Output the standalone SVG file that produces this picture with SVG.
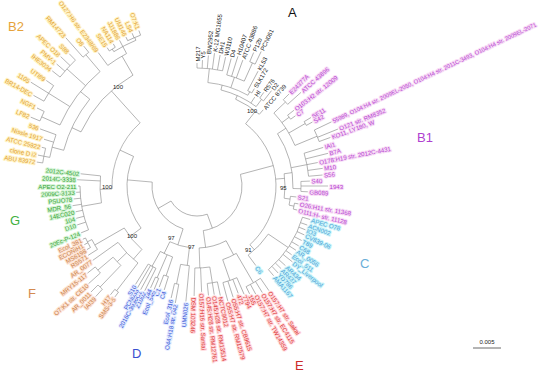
<svg xmlns="http://www.w3.org/2000/svg" width="550" height="378" viewBox="0 0 550 378">
<style>
text{font-family:"Liberation Sans",Arial,sans-serif}
.lf text{font-size:6.1px;dominant-baseline:central;paint-order:stroke;stroke-width:2.2px;stroke-linejoin:round}
.lf text.sm{font-size:5.7px}
.f{text-anchor:end}
.cA text{fill:#1a1a1a;stroke:none}
.cB1 text{fill:#b43fd0;stroke:#f8dcf6}
.cB2 text{fill:#e2a235;stroke:#fff3c6}
.cC text{fill:#4a9fd6;stroke:#c9f3f9}
.cD text{fill:#3553d6;stroke:#e3ebff}
.cE text{fill:#dd3535;stroke:#ffdadd}
.cF text{fill:#c98048;stroke:#fde3d3}
.cG text{fill:#36a336;stroke:#d6f5d6}
.bs{font-size:6px;fill:#222}
.cl{font-size:13px}
#connectors{fill:none;stroke:#8c8c8c;stroke-width:0.6}
</style>
<rect width="550" height="378" fill="#ffffff"/>
<g id="connectors" transform="translate(197,186)">
<circle r="30" pathLength="360" stroke-dasharray="80 400" transform="rotate(70)"/>
<line x1="30" x2="45" transform="rotate(150)"/>
<circle r="45" pathLength="360" stroke-dasharray="77 400" transform="rotate(108)"/>
<line x1="45" x2="62" transform="rotate(108)"/>
<line x1="45" x2="70" transform="rotate(185)"/>
<circle r="70" pathLength="360" stroke-dasharray="62 400" transform="rotate(143)"/>
<line x1="70" x2="84" transform="rotate(143)"/>
<line x1="70" x2="85" transform="rotate(205)"/>
<circle r="85" pathLength="360" stroke-dasharray="50 400" transform="rotate(178)"/>
<line x1="85" x2="97" transform="rotate(178)"/>
<line x1="85" x2="128" transform="rotate(228)"/>
<line x1="30" x2="45" transform="rotate(70)"/>
<circle r="45" pathLength="360" stroke-dasharray="97 400" transform="rotate(-15)"/>
<line x1="45" x2="62" transform="rotate(82)"/>
<line x1="45" x2="79" transform="rotate(-15)"/>
<circle r="79" pathLength="360" stroke-dasharray="100 400" transform="rotate(-52)"/>
<line x1="79" x2="95" transform="rotate(-52)"/>
<line x1="79" x2="88" transform="rotate(-5)"/>
<line x1="79" x2="86" transform="rotate(48)"/>
<!-- G -->
<circle r="97" pathLength="360" stroke-dasharray="16 400" transform="rotate(170)"/>
<line x1="97" x2="117" transform="rotate(186)"/>
<line x1="97" x2="120" transform="rotate(183)"/>
<line x1="97" x2="117" transform="rotate(170)"/>
<circle r="117" pathLength="360" stroke-dasharray="22 400" transform="rotate(158)"/>
<line x1="117" x2="119" transform="rotate(180)"/>
<line x1="117" x2="121" transform="rotate(177)"/>
<line x1="117" x2="124" transform="rotate(174)"/>
<line x1="117" x2="126" transform="rotate(171)"/>
<line x1="117" x2="124" transform="rotate(168)"/>
<line x1="117" x2="125" transform="rotate(165)"/>
<line x1="117" x2="126" transform="rotate(162)"/>
<line x1="117" x2="125" transform="rotate(158)"/>
<!-- F -->
<circle r="84" pathLength="360" stroke-dasharray="19 400" transform="rotate(131)"/>
<line x1="84" x2="118" transform="rotate(150)"/>
<circle r="118" pathLength="360" stroke-dasharray="5.5 400" transform="rotate(147.5)"/>
<line x1="118" x2="129" transform="rotate(147.5)"/>
<line x1="118" x2="123" transform="rotate(153)"/>
<circle r="123" pathLength="360" stroke-dasharray="5 400" transform="rotate(150)"/>
<line x1="123" x2="127" transform="rotate(150)"/>
<line x1="123" x2="127" transform="rotate(152.5)"/>
<line x1="123" x2="126" transform="rotate(155)"/>
<line x1="84" x2="97" transform="rotate(131)"/>
<circle r="97" pathLength="360" stroke-dasharray="17 400" transform="rotate(127.5)"/>
<line x1="97" x2="132" transform="rotate(127.5)"/>
<circle r="132" pathLength="360" stroke-dasharray="2 400" transform="rotate(126.5)"/>
<line x1="132" x2="138" transform="rotate(126.5)"/>
<line x1="132" x2="139" transform="rotate(128.5)"/>
<line x1="97" x2="110" transform="rotate(136.5)"/>
<circle r="110" pathLength="360" stroke-dasharray="5.9 400" transform="rotate(133.8)"/>
<line x1="110" x2="140" transform="rotate(133.8)"/>
<circle r="140" pathLength="360" stroke-dasharray="2.5 400" transform="rotate(132.5)"/>
<line x1="140" x2="150" transform="rotate(132.5)"/>
<line x1="140" x2="150" transform="rotate(135)"/>
<line x1="110" x2="130" transform="rotate(139.7)"/>
<circle r="130" pathLength="360" stroke-dasharray="3.5 400" transform="rotate(138)"/>
<line x1="130" x2="146" transform="rotate(138)"/>
<line x1="130" x2="140" transform="rotate(141.5)"/>
<line x1="97" x2="128" transform="rotate(144.5)"/>
<!-- B2 -->
<circle r="128" pathLength="360" stroke-dasharray="35 400" transform="rotate(205)"/>
<line x1="128" x2="150" transform="rotate(240)"/>
<circle r="150" pathLength="360" stroke-dasharray="8.5 400" transform="rotate(233.5)"/>
<line x1="150" x2="166" transform="rotate(233.5)"/>
<line x1="150" x2="158" transform="rotate(242)"/>
<circle r="158" pathLength="360" stroke-dasharray="9 400" transform="rotate(238.25)"/>
<line x1="158" x2="161" transform="rotate(238.25)"/>
<circle r="161" pathLength="360" stroke-dasharray="2.5 400" transform="rotate(237)"/>
<line x1="161" x2="165" transform="rotate(237)"/>
<line x1="161" x2="165" transform="rotate(239.5)"/>
<line x1="158" x2="165" transform="rotate(242)"/>
<line x1="158" x2="161" transform="rotate(247.25)"/>
<circle r="161" pathLength="360" stroke-dasharray="5 400" transform="rotate(244.5)"/>
<line x1="161" x2="165" transform="rotate(244.5)"/>
<line x1="161" x2="166" transform="rotate(247)"/>
<line x1="161" x2="166" transform="rotate(249.5)"/>
<line x1="128" x2="138" transform="rotate(205)"/>
<circle r="138" pathLength="360" stroke-dasharray="24 400" transform="rotate(195)"/>
<line x1="138" x2="150" transform="rotate(195)"/>
<circle r="150" pathLength="360" stroke-dasharray="9 400" transform="rotate(191)"/>
<line x1="150" x2="156" transform="rotate(191)"/>
<circle r="156" pathLength="360" stroke-dasharray="5.5 400" transform="rotate(188.5)"/>
<line x1="156" x2="162" transform="rotate(188.5)"/>
<line x1="156" x2="162" transform="rotate(191)"/>
<line x1="156" x2="160" transform="rotate(194)"/>
<line x1="150" x2="160" transform="rotate(197)"/>
<line x1="150" x2="167" transform="rotate(200)"/>
<line x1="138" x2="150" transform="rotate(219)"/>
<circle r="150" pathLength="360" stroke-dasharray="25.75 400" transform="rotate(204)"/>
<line x1="150" x2="170" transform="rotate(204)"/>
<circle r="170" pathLength="360" stroke-dasharray="3.5 400" transform="rotate(202.5)"/>
<line x1="170" x2="180" transform="rotate(202.5)"/>
<line x1="170" x2="178" transform="rotate(206)"/>
<line x1="150" x2="175" transform="rotate(212)"/>
<circle r="175" pathLength="360" stroke-dasharray="6 400" transform="rotate(209)"/>
<line x1="175" x2="187" transform="rotate(209)"/>
<line x1="175" x2="196" transform="rotate(212)"/>
<line x1="175" x2="184" transform="rotate(215)"/>
<line x1="150" x2="175" transform="rotate(222)"/>
<circle r="175" pathLength="360" stroke-dasharray="7.5 400" transform="rotate(218.5)"/>
<line x1="175" x2="185" transform="rotate(218.5)"/>
<line x1="175" x2="186" transform="rotate(221)"/>
<line x1="175" x2="188" transform="rotate(223.5)"/>
<line x1="175" x2="184" transform="rotate(226)"/>
<line x1="150" x2="172" transform="rotate(229.75)"/>
<circle r="172" pathLength="360" stroke-dasharray="2.5 400" transform="rotate(228.5)"/>
<line x1="172" x2="198" transform="rotate(228.5)"/>
<line x1="172" x2="180" transform="rotate(231)"/>
<!-- D -->
<circle r="62" pathLength="360" stroke-dasharray="19 400" transform="rotate(97)"/>
<line x1="62" x2="80" transform="rotate(97)"/>
<circle r="80" pathLength="360" stroke-dasharray="6.3 400" transform="rotate(95.5)"/>
<line x1="80" x2="116" transform="rotate(95.5)"/>
<line x1="80" x2="100" transform="rotate(101.8)"/>
<circle r="100" pathLength="360" stroke-dasharray="2.5 400" transform="rotate(100.5)"/>
<line x1="100" x2="119" transform="rotate(100.5)"/>
<line x1="100" x2="115" transform="rotate(103)"/>
<line x1="62" x2="75" transform="rotate(116)"/>
<circle r="75" pathLength="360" stroke-dasharray="10.25 400" transform="rotate(109)"/>
<line x1="75" x2="95" transform="rotate(109)"/>
<circle r="95" pathLength="360" stroke-dasharray="3 400" transform="rotate(107.5)"/>
<line x1="95" x2="109" transform="rotate(107.5)"/>
<line x1="95" x2="108" transform="rotate(110.5)"/>
<line x1="75" x2="100" transform="rotate(113.5)"/>
<circle r="100" pathLength="360" stroke-dasharray="2 400" transform="rotate(112.5)"/>
<line x1="100" x2="112" transform="rotate(112.5)"/>
<line x1="100" x2="112" transform="rotate(114.5)"/>
<line x1="75" x2="92" transform="rotate(119.25)"/>
<circle r="92" pathLength="360" stroke-dasharray="5.5 400" transform="rotate(116.5)"/>
<line x1="92" x2="117" transform="rotate(116.5)"/>
<line x1="92" x2="118" transform="rotate(118.5)"/>
<line x1="92" x2="118" transform="rotate(120.3)"/>
<line x1="92" x2="116" transform="rotate(122)"/>
<!-- E -->
<circle r="62" pathLength="360" stroke-dasharray="26 400" transform="rotate(62)"/>
<line x1="62" x2="82" transform="rotate(88)"/>
<circle r="82" pathLength="360" stroke-dasharray="10.5 400" transform="rotate(81)"/>
<line x1="82" x2="110" transform="rotate(91.5)"/>
<line x1="82" x2="106" transform="rotate(87.5)"/>
<line x1="82" x2="98" transform="rotate(81)"/>
<circle r="98" pathLength="360" stroke-dasharray="6 400" transform="rotate(78)"/>
<line x1="98" x2="112" transform="rotate(78)"/>
<line x1="98" x2="110" transform="rotate(81)"/>
<line x1="98" x2="110" transform="rotate(84)"/>
<line x1="62" x2="78" transform="rotate(62)"/>
<circle r="78" pathLength="360" stroke-dasharray="11 400" transform="rotate(59.75)"/>
<line x1="78" x2="112" transform="rotate(59.75)"/>
<circle r="112" pathLength="360" stroke-dasharray="8.5 400" transform="rotate(55.5)"/>
<line x1="112" x2="127" transform="rotate(55.5)"/>
<line x1="112" x2="125" transform="rotate(58.5)"/>
<line x1="112" x2="123" transform="rotate(61.5)"/>
<line x1="112" x2="120" transform="rotate(64)"/>
<line x1="78" x2="100" transform="rotate(70.75)"/>
<circle r="100" pathLength="360" stroke-dasharray="8.5 400" transform="rotate(66.5)"/>
<line x1="100" x2="118" transform="rotate(66.5)"/>
<line x1="100" x2="115" transform="rotate(69)"/>
<line x1="100" x2="117" transform="rotate(72)"/>
<line x1="100" x2="119" transform="rotate(75)"/>
<!-- C -->
<circle r="86" pathLength="360" stroke-dasharray="19.5 400" transform="rotate(34)"/>
<line x1="86" x2="99" transform="rotate(53.5)"/>
<line x1="86" x2="110" transform="rotate(34)"/>
<circle r="110" pathLength="360" stroke-dasharray="33 400" transform="rotate(16.5)"/>
<line x1="110" x2="118" transform="rotate(16.5)"/>
<line x1="110" x2="117" transform="rotate(19.5)"/>
<line x1="110" x2="117" transform="rotate(22)"/>
<line x1="110" x2="118" transform="rotate(24.5)"/>
<line x1="110" x2="118" transform="rotate(27.5)"/>
<line x1="110" x2="118" transform="rotate(30.5)"/>
<line x1="110" x2="118" transform="rotate(33)"/>
<line x1="110" x2="117" transform="rotate(36)"/>
<line x1="110" x2="122" transform="rotate(38.5)"/>
<line x1="110" x2="119" transform="rotate(42)"/>
<line x1="110" x2="118" transform="rotate(44.5)"/>
<line x1="110" x2="119" transform="rotate(47)"/>
<line x1="110" x2="118" transform="rotate(49.5)"/>
<!-- B1 -->
<circle r="88" pathLength="360" stroke-dasharray="16 400" transform="rotate(-8)"/>
<line x1="88" x2="94" transform="rotate(8)"/>
<circle r="94" pathLength="360" stroke-dasharray="5.45 400" transform="rotate(6.3)"/>
<line x1="94" x2="100" transform="rotate(6.3)"/>
<line x1="94" x2="99" transform="rotate(11.75)"/>
<circle r="99" pathLength="360" stroke-dasharray="3.5 400" transform="rotate(10)"/>
<line x1="99" x2="103" transform="rotate(10)"/>
<line x1="99" x2="103" transform="rotate(13.5)"/>
<line x1="88" x2="96" transform="rotate(-8)"/>
<circle r="96" pathLength="360" stroke-dasharray="34.5 400" transform="rotate(-33)"/>
<line x1="96" x2="104" transform="rotate(1.5)"/>
<circle r="104" pathLength="360" stroke-dasharray="5.5 400" transform="rotate(-2.5)"/>
<line x1="104" x2="113" transform="rotate(-2.5)"/>
<line x1="104" x2="131" transform="rotate(0)"/>
<line x1="104" x2="111" transform="rotate(3)"/>
<line x1="96" x2="112" transform="rotate(-11)"/>
<circle r="112" pathLength="360" stroke-dasharray="12 400" transform="rotate(-17)"/>
<line x1="112" x2="132" transform="rotate(-17)"/>
<line x1="112" x2="135" transform="rotate(-14)"/>
<line x1="112" x2="123" transform="rotate(-11)"/>
<line x1="112" x2="127" transform="rotate(-8)"/>
<line x1="112" x2="126" transform="rotate(-5)"/>
<line x1="96" x2="106" transform="rotate(-33)"/>
<circle r="106" pathLength="360" stroke-dasharray="21 400" transform="rotate(-43.5)"/>
<line x1="106" x2="122" transform="rotate(-43.5)"/>
<circle r="122" pathLength="360" stroke-dasharray="3 400" transform="rotate(-45)"/>
<line x1="122" x2="130" transform="rotate(-45)"/>
<line x1="122" x2="140" transform="rotate(-42)"/>
<line x1="106" x2="115" transform="rotate(-36.75)"/>
<circle r="115" pathLength="360" stroke-dasharray="2.5 400" transform="rotate(-38)"/>
<line x1="115" x2="123" transform="rotate(-38)"/>
<line x1="115" x2="121" transform="rotate(-35.5)"/>
<line x1="106" x2="125" transform="rotate(-30)"/>
<circle r="125" pathLength="360" stroke-dasharray="2 400" transform="rotate(-31)"/>
<line x1="125" x2="133" transform="rotate(-31)"/>
<line x1="125" x2="132" transform="rotate(-29)"/>
<line x1="106" x2="130" transform="rotate(-22.5)"/>
<circle r="130" pathLength="360" stroke-dasharray="5.5 400" transform="rotate(-25.5)"/>
<line x1="130" x2="149" transform="rotate(-25.5)"/>
<line x1="130" x2="152" transform="rotate(-22)"/>
<line x1="130" x2="142" transform="rotate(-20)"/>
<!-- A -->
<circle r="95" pathLength="360" stroke-dasharray="17 400" transform="rotate(-66)"/>
<line x1="95" x2="101" transform="rotate(-49)"/>
<line x1="95" x2="99" transform="rotate(-66)"/>
<circle r="99" pathLength="360" stroke-dasharray="22.7 400" transform="rotate(-76)"/>
<line x1="99" x2="108" transform="rotate(-53.3)"/>
<circle r="108" pathLength="360" stroke-dasharray="2.5 400" transform="rotate(-54.5)"/>
<line x1="108" x2="115" transform="rotate(-54.5)"/>
<line x1="108" x2="121" transform="rotate(-52)"/>
<line x1="99" x2="106" transform="rotate(-57)"/>
<line x1="99" x2="104" transform="rotate(-76)"/>
<circle r="104" pathLength="360" stroke-dasharray="23.25 400" transform="rotate(-84)"/>
<line x1="104" x2="108" transform="rotate(-60.75)"/>
<circle r="108" pathLength="360" stroke-dasharray="2.5 400" transform="rotate(-62)"/>
<line x1="108" x2="130" transform="rotate(-62)"/>
<line x1="108" x2="113" transform="rotate(-59.5)"/>
<line x1="104" x2="115" transform="rotate(-71)"/>
<circle r="115" pathLength="360" stroke-dasharray="9.25 400" transform="rotate(-75)"/>
<line x1="115" x2="132" transform="rotate(-75)"/>
<line x1="115" x2="136" transform="rotate(-72.5)"/>
<line x1="115" x2="134" transform="rotate(-70)"/>
<line x1="115" x2="135" transform="rotate(-65.75)"/>
<circle r="135" pathLength="360" stroke-dasharray="2.5 400" transform="rotate(-67)"/>
<line x1="135" x2="145" transform="rotate(-67)"/>
<line x1="135" x2="149" transform="rotate(-64.5)"/>
<line x1="104" x2="118" transform="rotate(-84)"/>
<circle r="118" pathLength="360" stroke-dasharray="12.5 400" transform="rotate(-90)"/>
<line x1="118" x2="123" transform="rotate(-90)"/>
<line x1="118" x2="126" transform="rotate(-87.5)"/>
<line x1="118" x2="131" transform="rotate(-85)"/>
<line x1="118" x2="134" transform="rotate(-82.5)"/>
<line x1="118" x2="133" transform="rotate(-80)"/>
<line x1="118" x2="132" transform="rotate(-77.5)"/>
</g>
<g id="nodes" class="lf" transform="translate(197,186)">
<g id="clade-A" class="cA">
<g id="a1" transform="rotate(-90) translate(124.5)"><text>M217</text></g>
<g id="a2" transform="rotate(-87.5) translate(127.5)"><text>Y5</text></g>
<g id="a3" transform="rotate(-85) translate(132.5)"><text>BW2952</text></g>
<g id="a4" transform="rotate(-82.5) translate(135.5)"><text>K-12 MG1655</text></g>
<g id="a5" transform="rotate(-80) translate(134.5)"><text>DH1</text></g>
<g id="a6" transform="rotate(-77.5) translate(133.5)"><text>W3110</text></g>
<g id="a7" transform="rotate(-75) translate(133.5)"><text>D4</text></g>
<g id="a8" transform="rotate(-72.5) translate(137.5)"><text>H10407</text></g>
<g id="a9" transform="rotate(-70) translate(135.5)"><text>ATCC 43886</text></g>
<g id="a10" transform="rotate(-67) translate(146.5)"><text>P12b</text></g>
<g id="a11" transform="rotate(-64.5) translate(150.5)"><text>PCN061</text></g>
<g id="a12" transform="rotate(-62) translate(131.5)"><text>KL53</text></g>
<g id="a13" transform="rotate(-59.5) translate(114.5)"><text>SLK172</text></g>
<g id="a14" transform="rotate(-57) translate(107.5)"><text>HI</text></g>
<g id="a15" transform="rotate(-54.5) translate(116.5)"><text>R576</text></g>
<g id="a16" transform="rotate(-52) translate(122.5)"><text>D2</text></g>
<g id="a17" transform="rotate(-49) translate(102.5)"><text>ATCC 8739</text></g>
</g>
<g id="clade-B1" class="cB1">
<g id="p1" transform="rotate(-45) translate(131.5)"><text>E24377A</text></g>
<g id="p2" transform="rotate(-42) translate(141.5)"><text>ATCC 43896</text></g>
<g id="p3" transform="rotate(-38) translate(124.5)"><text>O103:H2 str. 12009</text></g>
<g id="p4" transform="rotate(-35.5) translate(122.5)"><text>C7</text></g>
<g id="p5" transform="rotate(-31) translate(134.5)"><text>SE11</text></g>
<g id="p6" transform="rotate(-29) translate(133.5)"><text>S42</text></g>
<g id="p7" transform="rotate(-25.5) translate(150.5)"><text class="sm">55989, O104:H4 str. 2009EL-2050, O104:H4 str. 2011C-3493, O104:H4 str. 2009EL-2071</text></g>
<g id="p8" transform="rotate(-22) translate(153.5)"><text>O121 str. RM8352</text></g>
<g id="p9" transform="rotate(-20) translate(143.5)"><text>KO11, LY180, W</text></g>
<g id="p10" transform="rotate(-17) translate(133.5)"><text>IAI1</text></g>
<g id="p11" transform="rotate(-14) translate(136.5)"><text>B7A</text></g>
<g id="p12" transform="rotate(-11) translate(124.5)"><text>O178:H19 str. 2012C-4431</text></g>
<g id="p13" transform="rotate(-8) translate(128.5)"><text>M10</text></g>
<g id="p14" transform="rotate(-5) translate(127.5)"><text>S56</text></g>
<g id="p15" transform="rotate(-2.5) translate(114.5)"><text>S40</text></g>
<g id="p16" transform="rotate(0) translate(132.5)"><text>1943</text></g>
<g id="p17" transform="rotate(3) translate(112.5)"><text>GB089</text></g>
<g id="p18" transform="rotate(6.3) translate(101.5)"><text>S21</text></g>
<g id="p19" transform="rotate(10) translate(104.5)"><text>O26:H11 str. 11368</text></g>
<g id="p20" transform="rotate(13.5) translate(104.5)"><text>O111:H- str. 11128</text></g>
</g>
<g id="clade-C" class="cC">
<g id="c1" transform="rotate(16.5) translate(119.5)"><text>APEC O78</text></g>
<g id="c2" transform="rotate(19.5) translate(118.5)"><text>ACN002</text></g>
<g id="c3" transform="rotate(22) translate(118.5)"><text>IO3</text></g>
<g id="c4" transform="rotate(24.5) translate(119.5)"><text>CV839-06</text></g>
<g id="c5" transform="rotate(27.5) translate(119.5)"><text>T89</text></g>
<g id="c6" transform="rotate(30.5) translate(119.5)"><text>C68</text></g>
<g id="c7" transform="rotate(33) translate(119.5)"><text>AR_0056</text></g>
<g id="c8" transform="rotate(36) translate(118.5)"><text>Ecol_511</text></g>
<g id="c9" transform="rotate(38.5) translate(123.5)"><text>DY_Liverpool</text></g>
<g id="c10" transform="rotate(42) translate(120.5)"><text>AR434</text></g>
<g id="c11" transform="rotate(44.5) translate(119.5)"><text>AR437</text></g>
<g id="c12" transform="rotate(47) translate(120.5)"><text>YD786</text></g>
<g id="c13" transform="rotate(49.5) translate(119.5)"><text>AMA1167</text></g>
<g id="c14" transform="rotate(53.5) translate(100.5)"><text>C6</text></g>
</g>
<g id="clade-E" class="cE">
<g id="e1" transform="rotate(55.5) translate(128.5)"><text>O157:H7 str. Sakai</text></g>
<g id="e2" transform="rotate(58.5) translate(126.5)"><text>O157:H7 str. EC4115</text></g>
<g id="e3" transform="rotate(61.5) translate(124.5)"><text>O157:H7 str. TW14359</text></g>
<g id="e4" transform="rotate(64) translate(121.5)"><text>155</text></g>
<g id="e5" transform="rotate(66.5) translate(119.5)"><text>7794</text></g>
<g id="e6" transform="rotate(69) translate(116.5)"><text>472</text></g>
<g id="e7" transform="rotate(72) translate(118.5)"><text>O55:H7 str. CB9615</text></g>
<g id="e8" transform="rotate(75) translate(120.5)"><text>O55:H7 str. RM12579</text></g>
<g id="e9" transform="rotate(78) translate(113.5)"><text>NCTC9012</text></g>
<g id="e10" transform="rotate(81) translate(111.5)"><text>O145:H28 str. RM13514</text></g>
<g id="e11" transform="rotate(84) translate(111.5)"><text>O145:H28 str. RM12761</text></g>
<g id="e12" transform="rotate(87.5) translate(107.5)"><text>O157:H16 str. Santai</text></g>
<g id="e13" transform="rotate(91.5) translate(111.5)"><text>DSM 103246</text></g>
</g>
<g id="clade-D" class="cD">
<g id="d1" transform="rotate(95.5) translate(117.5)"><text class="f" transform="rotate(180)">UMN026</text></g>
<g id="d2" transform="rotate(100.5) translate(120.5)"><text class="f" transform="rotate(180)">O44:H18 str. 042</text></g>
<g id="d3" transform="rotate(103) translate(116.5)"><text class="f" transform="rotate(180)">Ecol_316</text></g>
<g id="d4" transform="rotate(107.5) translate(110.5)"><text class="f" transform="rotate(180)">C4</text></g>
<g id="d5" transform="rotate(110.5) translate(109.5)"><text class="f" transform="rotate(180)">C1</text></g>
<g id="d6" transform="rotate(112.5) translate(113.5)"><text class="f" transform="rotate(180)">Ecol_545</text></g>
<g id="d7" transform="rotate(114.5) translate(113.5)"><text class="f" transform="rotate(180)">144</text></g>
<g id="d8" transform="rotate(116.5) translate(118.5)"><text class="f" transform="rotate(180)">Z1002</text></g>
<g id="d9" transform="rotate(118.5) translate(119.5)"><text class="f" transform="rotate(180)">2016C-3936C1</text></g>
<g id="d10" transform="rotate(120.3) translate(119.5)"><text class="f" transform="rotate(180)">PCN033</text></g>
<g id="d11" transform="rotate(122) translate(117.5)"><text class="f" transform="rotate(180)">S10</text></g>
</g>
<g id="clade-F" class="cF">
<g id="f1" transform="rotate(126.5) translate(139.5)"><text class="f" transform="rotate(180)">SMS-3-5</text></g>
<g id="f2" transform="rotate(128.5) translate(140.5)"><text class="f" transform="rotate(180)">H17</text></g>
<g id="f3" transform="rotate(132.5) translate(151.5)"><text class="f" transform="rotate(180)">IAI39</text></g>
<g id="f4" transform="rotate(135) translate(151.5)"><text class="f" transform="rotate(180)">AR_0011</text></g>
<g id="f5" transform="rotate(138) translate(147.5)"><text class="f" transform="rotate(180)">O7:K1 str. CE10</text></g>
<g id="f6" transform="rotate(141.5) translate(141.5)"><text class="f" transform="rotate(180)">MRY15-117</text></g>
<g id="f7" transform="rotate(144.5) translate(129.5)"><text class="f" transform="rotate(180)">AR_0077</text></g>
<g id="f8" transform="rotate(147.5) translate(130.5)"><text class="f" transform="rotate(180)">RS571</text></g>
<g id="f9" transform="rotate(150) translate(128.5)"><text class="f" transform="rotate(180)">MS6198</text></g>
<g id="f10" transform="rotate(152.5) translate(128.5)"><text class="f" transform="rotate(180)">ECONIH1</text></g>
<g id="f11" transform="rotate(155) translate(127.5)"><text class="f" transform="rotate(180)">Ecol_381</text></g>
</g>
<g id="clade-G" class="cG">
<g id="g1" transform="rotate(186) translate(118.5)"><text class="f" transform="rotate(180)">2012C-4502</text></g>
<g id="g2" transform="rotate(183) translate(121.5)"><text class="f" transform="rotate(180)">2014C-3338</text></g>
<g id="g3" transform="rotate(180) translate(120.5)"><text class="f" transform="rotate(180)">APEC O2-211</text></g>
<g id="g4" transform="rotate(177) translate(122.5)"><text class="f" transform="rotate(180)">2009C-3133</text></g>
<g id="g5" transform="rotate(174) translate(125.5)"><text class="f" transform="rotate(180)">PSUO78</text></g>
<g id="g6" transform="rotate(171) translate(127.5)"><text class="f" transform="rotate(180)">MDR_56</text></g>
<g id="g7" transform="rotate(168) translate(125.5)"><text class="f" transform="rotate(180)">14EC020</text></g>
<g id="g8" transform="rotate(165) translate(126.5)"><text class="f" transform="rotate(180)">104</text></g>
<g id="g9" transform="rotate(162) translate(127.5)"><text class="f" transform="rotate(180)">D10</text></g>
<g id="g10" transform="rotate(158) translate(126.5)"><text class="f" transform="rotate(180)">20Ec-P-124</text></g>
</g>
<g id="clade-B2" class="cB2">
<g id="b1" transform="rotate(188.5) translate(163.5)"><text class="f" transform="rotate(180)">ABU 83972</text></g>
<g id="b2" transform="rotate(191) translate(163.5)"><text class="f" transform="rotate(180)">clone D i2</text></g>
<g id="b3" transform="rotate(194) translate(161.5)"><text class="f" transform="rotate(180)">ATCC 25922</text></g>
<g id="b4" transform="rotate(197) translate(161.5)"><text class="f" transform="rotate(180)">Nissle 1917</text></g>
<g id="b5" transform="rotate(200) translate(168.5)"><text class="f" transform="rotate(180)">536</text></g>
<g id="b6" transform="rotate(202.5) translate(181.5)"><text class="f" transform="rotate(180)">LF82</text></g>
<g id="b7" transform="rotate(206) translate(179.5)"><text class="f" transform="rotate(180)">NGF1</text></g>
<g id="b8" transform="rotate(209) translate(188.5)"><text class="f" transform="rotate(180)">BR14-DEC</text></g>
<g id="b9" transform="rotate(212) translate(197.5)"><text class="f" transform="rotate(180)">1105</text></g>
<g id="b10" transform="rotate(215) translate(185.5)"><text class="f" transform="rotate(180)">UTI89</text></g>
<g id="b11" transform="rotate(218.5) translate(186.5)"><text class="f" transform="rotate(180)">IHE3034</text></g>
<g id="b12" transform="rotate(221) translate(187.5)"><text class="f" transform="rotate(180)">PMV-1</text></g>
<g id="b13" transform="rotate(223.5) translate(189.5)"><text class="f" transform="rotate(180)">APEC O18</text></g>
<g id="b14" transform="rotate(226) translate(185.5)"><text class="f" transform="rotate(180)">S88</text></g>
<g id="b15" transform="rotate(228.5) translate(199.5)"><text class="f" transform="rotate(180)">RM14723</text></g>
<g id="b16" transform="rotate(231) translate(181.5)"><text class="f" transform="rotate(180)">O8</text></g>
<g id="b17" transform="rotate(233.5) translate(167.5)"><text class="f" transform="rotate(180)">O127:H6 str. E2348/69</text></g>
<g id="b18" transform="rotate(237) translate(166.5)"><text class="f" transform="rotate(180)">SE15</text></g>
<g id="b19" transform="rotate(239.5) translate(166.5)"><text class="f" transform="rotate(180)">NA114</text></g>
<g id="b20" transform="rotate(242) translate(166.5)"><text class="f" transform="rotate(180)">JJ1886</text></g>
<g id="b21" transform="rotate(244.5) translate(166.5)"><text class="f" transform="rotate(180)">UM146</text></g>
<g id="b22" transform="rotate(247) translate(167.5)"><text class="f" transform="rotate(180)">LS4</text></g>
<g id="b23" transform="rotate(249.5) translate(167.5)"><text class="f" transform="rotate(180)">O7:K1</text></g>
</g>
</g>
<g id="bootstrap">
<text class="bs" x="113" y="89">100</text>
<text class="bs" x="102" y="189">100</text>
<text class="bs" x="127" y="238">100</text>
<text class="bs" x="168" y="240">97</text>
<text class="bs" x="188" y="249">97</text>
<text class="bs" x="245" y="252">91</text>
<text class="bs" x="280" y="190">95</text>
<text class="bs" x="247" y="113">100</text>
</g>
<g id="clade-labels">
<text class="cl" x="288" y="17" fill="#111">A</text>
<text class="cl" x="8" y="31" fill="#e6a23a">B2</text>
<text class="cl" x="417" y="142" fill="#b040d0">B1</text>
<text class="cl" x="10" y="225" fill="#3fb03f">G</text>
<text class="cl" x="28" y="298" fill="#d48a50">F</text>
<text class="cl" x="132" y="358" fill="#3a50d0">D</text>
<text class="cl" x="295" y="370" fill="#cc2a2a">E</text>
<text class="cl" x="360" y="268" fill="#6aaed8">C</text>
</g>
<g id="scale-bar">
<text x="487" y="344" font-size="6" text-anchor="middle" fill="#222">0.005</text>
<line x1="473" y1="348" x2="501" y2="348" stroke="#444" stroke-width="0.8"/>
</g>
</svg>
